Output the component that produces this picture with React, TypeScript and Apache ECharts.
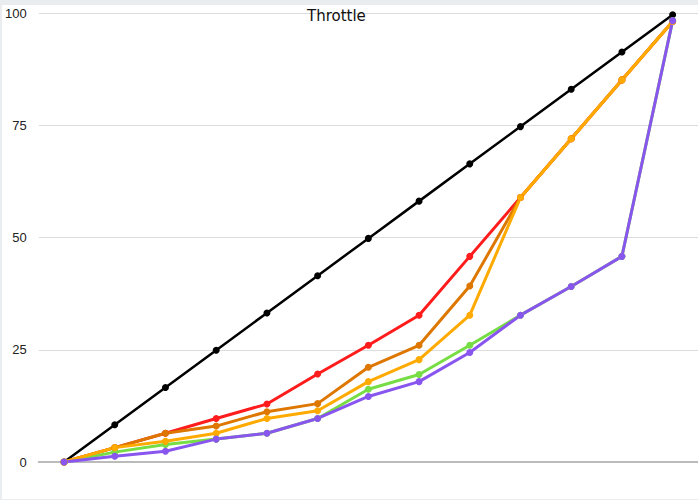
import React, { useEffect, useRef } from 'react';
import * as echarts from 'echarts';

// data
const categories = ['0', '1', '2', '3', '4', '5', '6', '7', '8', '9', '10', '11', '12'];
const yTicks = [0, 25, 50, 75, 100];

const seriesNames = ['Linear', 'Curve A', 'Curve B', 'Curve C', 'Curve D', 'Curve E'];
const linear = [0, 8.3, 16.6, 24.9, 33.2, 41.5, 49.8, 58.1, 66.4, 74.7, 83, 91.3, 99.6];
const curveA = [0, 3.2, 6.4, 9.7, 12.9, 19.6, 26, 32.7, 45.8, 58.9, 72, 85.1, 98.1];
const curveB = [0, 3.2, 6.4, 8, 11.2, 13, 21.1, 26, 39.2, 58.9, 72, 85.1, 98.1];
const curveD = [0, 2.2, 3.9, 5.1, 6.4, 9.7, 16.2, 19.5, 26, 32.7, 39.1, 45.8, 98.3];
const curveC = [0, 3.2, 4.6, 6.4, 9.7, 11.4, 17.9, 22.8, 32.7, 58.9, 72, 85.1, 98.1];
const curveE = [0, 1.3, 2.4, 5.1, 6.4, 9.7, 14.6, 17.9, 24.4, 32.7, 39.1, 45.8, 98.3];

const colors = ['#000000', '#ff1c1c', '#dd7700', '#77dd44', '#ffaa00', '#8855ee'];

const App = () => {
  const chartRef = useRef<HTMLDivElement>(null);

  useEffect(() => {
    if (!chartRef.current) return;
    const chart = echarts.init(chartRef.current, undefined, { renderer: 'svg' });
    const data = [linear, curveA, curveB, curveD, curveC, curveE];

    chart.setOption({
      animation: false,
      backgroundColor: '#ffffff',
      title: {
        text: 'Throttle',
        left: 305,
        top: 3,
        padding: 0,
        textStyle: {
          fontFamily: 'DejaVu Sans',
          fontSize: 15,
          fontWeight: 'normal',
          color: '#111',
        },
      },
      grid: { left: 36, right: 0, top: 8, bottom: 37 },
      xAxis: {
        type: 'category',
        data: categories,
        boundaryGap: true,
        axisLine: { lineStyle: { color: '#bbbbbb', width: 2 } },
        axisTick: { show: false },
        axisLabel: { show: false },
      },
      yAxis: {
        type: 'value',
        min: yTicks[0],
        max: yTicks[yTicks.length - 1],
        interval: 25,
        axisLine: { show: false },
        axisTick: { show: false },
        axisLabel: {
          margin: 12,
          color: '#222',
          fontFamily: 'Liberation Sans',
          fontSize: 13,
        },
        splitLine: { lineStyle: { color: '#dddddd', width: 1 } },
      },
      series: data.map((d, i) => ({
        name: seriesNames[i],
        type: 'line',
        data: d,
        symbol: 'circle',
        symbolSize: 7,
        lineStyle: { color: colors[i], width: i === 0 ? 2.5 : 3 },
        itemStyle: { color: colors[i] },
      })),
    });

    return () => {
      chart.dispose();
    };
  }, []);

  return (
    <div
      style={{
        position: 'fixed',
        left: 0,
        top: 0,
        width: 698,
        height: 500,
        background: '#e9edf0',
      }}
    >
      <div
        ref={chartRef}
        style={{ position: 'absolute', left: 2, top: 5, width: 696, height: 494 }}
      />
    </div>
  );
};

export default App;
